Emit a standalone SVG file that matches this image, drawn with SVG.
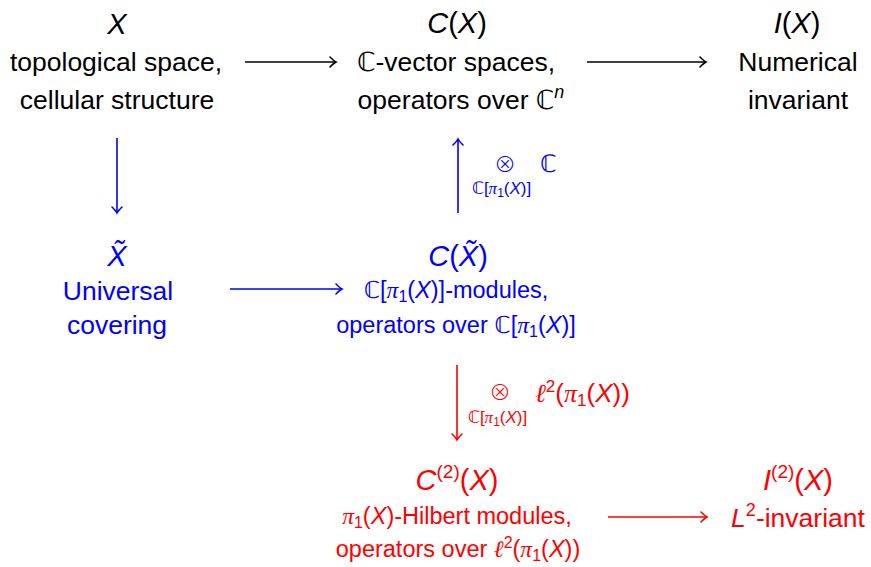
<svg xmlns="http://www.w3.org/2000/svg" width="871" height="567" viewBox="0 0 871 567">
<style>
text{font-family:"Liberation Sans",Arial,sans-serif;text-anchor:middle}
.big{font-size:26.5px}
.hd{font-size:29px}
.sm{font-size:23.5px}
.it{font-style:italic}
.bb{font-family:"DejaVu Sans",sans-serif}
.ot{font-family:"Noto Sans CJK JP","DejaVu Sans",sans-serif;font-weight:300}
.gr{font-family:"Liberation Serif","DejaVu Serif",serif;font-style:italic}
.k{fill:#000}
.b{fill:#0000ff}
.r{fill:#ff0000}
.ln{fill:none;stroke-width:1.6}
</style>
<defs>
<marker id="ak" markerUnits="userSpaceOnUse" orient="auto" markerWidth="14" markerHeight="14" refX="0" refY="0" viewBox="-8 -7 10 14" overflow="visible"><path d="M-6,-5 Q-2,-1 0,0 Q-2,1 -6,5" fill="none" stroke="#000" stroke-width="1.6" stroke-linecap="round"/></marker>
<marker id="ab" markerUnits="userSpaceOnUse" orient="auto" markerWidth="14" markerHeight="14" refX="0" refY="0" viewBox="-8 -7 10 14" overflow="visible"><path d="M-6,-5 Q-2,-1 0,0 Q-2,1 -6,5" fill="none" stroke="#0000ff" stroke-width="1.6" stroke-linecap="round"/></marker>
<marker id="ar" markerUnits="userSpaceOnUse" orient="auto" markerWidth="14" markerHeight="14" refX="0" refY="0" viewBox="-8 -7 10 14" overflow="visible"><path d="M-6,-5 Q-2,-1 0,0 Q-2,1 -6,5" fill="none" stroke="#ff0000" stroke-width="1.6" stroke-linecap="round"/></marker>
</defs>

<g id="node-X" class="k">
<text class="hd" x="117" y="34"><tspan class="it">X</tspan></text>
<text class="big" x="116" y="71">topological space,</text>
<text class="big" x="117" y="109">cellular structure</text>
</g>

<g id="node-CX" class="k">
<text class="hd" x="457" y="33"><tspan class="it">C</tspan>(<tspan class="it">X</tspan>)</text>
<text class="big" x="456" y="71"><tspan class="bb">ℂ</tspan>-vector spaces,</text>
<text class="big" x="461" y="109">operators over <tspan class="bb">ℂ</tspan><tspan class="it" font-size="18" dy="-11">n</tspan></text>
</g>

<g id="node-IX" class="k">
<text class="hd" x="797" y="33"><tspan class="it">I</tspan>(<tspan class="it">X</tspan>)</text>
<text class="big" x="798" y="71">Numerical</text>
<text class="big" x="798" y="109">invariant</text>
</g>

<g id="node-Xtilde" class="b">
<text class="hd" x="117" y="266"><tspan class="it">X̃</tspan></text>
<text class="big" x="118" y="300">Universal</text>
<text class="big" x="117" y="334">covering</text>
</g>

<g id="node-CXtilde" class="b">
<text class="hd" x="458" y="266"><tspan class="it">C</tspan>(<tspan class="it">X̃</tspan>)</text>
<text class="sm" x="456" y="298"><tspan class="bb">ℂ</tspan>[<tspan class="gr">π</tspan><tspan font-size="16" dy="4">1</tspan><tspan dy="-4">(</tspan><tspan class="it">X</tspan>)]-modules,</text>
<text class="sm" x="456" y="333">operators over <tspan class="bb">ℂ</tspan>[<tspan class="gr">π</tspan><tspan font-size="16" dy="4">1</tspan><tspan dy="-4">(</tspan><tspan class="it">X</tspan>)]</text>
</g>

<g id="node-C2X" class="r">
<text class="hd" x="457" y="490"><tspan class="it">C</tspan><tspan font-size="19" dy="-12">(2)</tspan><tspan dy="12">(</tspan><tspan class="it">X</tspan>)</text>
<text class="sm" x="457" y="524"><tspan class="gr">π</tspan><tspan font-size="16" dy="4">1</tspan><tspan dy="-4">(</tspan><tspan class="it">X</tspan>)-Hilbert modules,</text>
<text class="sm" x="458" y="557">operators over <tspan class="gr">ℓ</tspan><tspan font-size="16" dy="-9">2</tspan><tspan dy="9">(</tspan><tspan class="gr">π</tspan><tspan font-size="16" dy="4">1</tspan><tspan dy="-4">(</tspan><tspan class="it">X</tspan>))</text>
</g>

<g id="node-I2X" class="r">
<text class="hd" x="798" y="490"><tspan class="it">I</tspan><tspan font-size="19" dy="-12">(2)</tspan><tspan dy="12">(</tspan><tspan class="it">X</tspan>)</text>
<text class="big" x="798" y="527"><tspan class="it">L</tspan><tspan font-size="18" dy="-11">2</tspan><tspan dy="11">-invariant</tspan></text>
</g>

<g id="connectors">
<line class="ln" stroke="#000" x1="245" y1="62" x2="336" y2="62" marker-end="url(#ak)"/>
<line class="ln" stroke="#000" x1="587" y1="62" x2="706" y2="62" marker-end="url(#ak)"/>
<line class="ln" stroke="#0000ff" x1="117" y1="138" x2="117" y2="213" marker-end="url(#ab)"/>
<line class="ln" stroke="#0000ff" x1="458" y1="213" x2="458" y2="139" marker-end="url(#ab)"/>
<line class="ln" stroke="#0000ff" x1="230" y1="289" x2="342" y2="289" marker-end="url(#ab)"/>
<line class="ln" stroke="#ff0000" x1="457" y1="365" x2="457" y2="440" marker-end="url(#ar)"/>
<line class="ln" stroke="#ff0000" x1="608" y1="517" x2="707" y2="517" marker-end="url(#ar)"/>
<g class="b">
<text class="ot" x="505" y="172" font-size="22">⊗</text>
<text x="472" y="194" font-size="17" style="text-anchor:start"><tspan class="bb">ℂ</tspan>[<tspan class="gr">π</tspan><tspan font-size="12" dy="3">1</tspan><tspan dy="-3">(</tspan><tspan class="it">X</tspan>)]</text>
<text class="bb" x="540" y="172" font-size="24" style="text-anchor:start">ℂ</text>
</g>
<g class="r">
<text class="ot" x="500" y="400" font-size="22">⊗</text>
<text x="468" y="423" font-size="17" style="text-anchor:start"><tspan class="bb">ℂ</tspan>[<tspan class="gr">π</tspan><tspan font-size="12" dy="3">1</tspan><tspan dy="-3">(</tspan><tspan class="it">X</tspan>)]</text>
<text x="535" y="402" font-size="26" style="text-anchor:start"><tspan class="gr">ℓ</tspan><tspan font-size="17" dy="-10">2</tspan><tspan dy="10">(</tspan><tspan class="gr">π</tspan><tspan font-size="17" dy="4">1</tspan><tspan dy="-4">(</tspan><tspan class="it">X</tspan>))</text>
</g>
</g>
</svg>
